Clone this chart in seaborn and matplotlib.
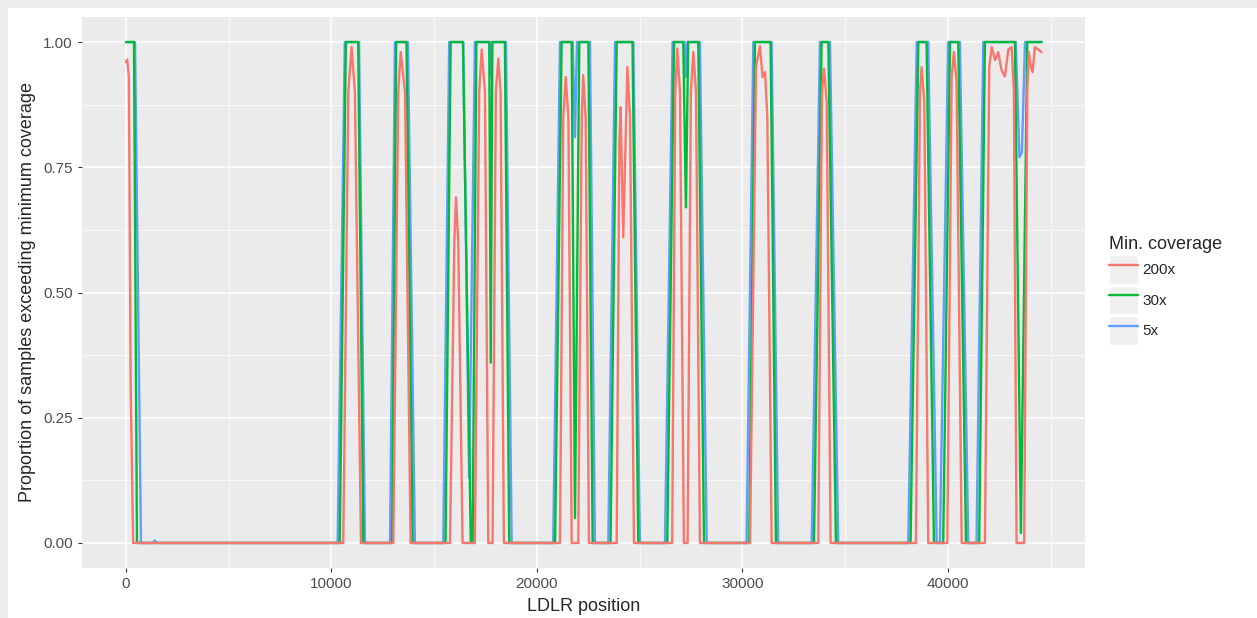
import pandas as pd
import matplotlib
matplotlib.use("Agg")
import matplotlib.pyplot as plt
import seaborn as sns
from matplotlib.ticker import MultipleLocator
from matplotlib.patches import Rectangle
from matplotlib.lines import Line2D
from matplotlib.legend_handler import HandlerTuple

# coverage proportion along LDLR
pos_5x = [0, 440, 730, 1300, 1400, 1500,
          10300, 10650, 11340, 11630,
          12850, 13090, 13720, 14060,
          15440, 15730, 16410, 16700, 16980, 17700, 17760, 17820, 18490, 18770,
          20790, 21120, 21740, 21850, 21950, 22580, 22820,
          23470, 23800, 24690, 25010,
          26230, 26600, 27180, 27250, 27320, 27930, 28260,
          30200, 30530, 31420, 31740,
          33370, 33770, 34260, 34660,
          38070, 38480, 39040, 39450,
          39610, 40010, 40580, 40990,
          41390, 41720, 43300, 43480, 43600, 43750, 44560]
val_5x = [1, 1, 0, 0, 0.005, 0,
          0, 1, 1, 0,
          0, 1, 1, 0,
          0, 1, 1, 0.13, 1, 1, 0.93, 1, 1, 0,
          0, 1, 1, 0.81, 1, 1, 0,
          0, 1, 1, 0,
          0, 1, 1, 0.93, 1, 1, 0,
          0, 1, 1, 0,
          0, 1, 1, 0,
          0, 1, 1, 0,
          0, 1, 1, 0,
          0, 1, 1, 0.77, 0.78, 1, 1]

pos_30x = [0, 390, 535,
           10400, 10700, 11300, 11550,
           12950, 13150, 13650, 13950,
           15550, 15800, 16400, 16780, 16870, 17050, 17680, 17750, 17830, 18440, 18650,
           20880, 21200, 21690, 21850, 22060, 22500, 22710,
           23580, 23880, 24650, 24930,
           26340, 26670, 27120, 27250, 27360, 27850, 28130,
           30330, 30610, 31370, 31630,
           33480, 33850, 34180, 34550,
           38180, 38560, 38960, 39320,
           39770, 40100, 40500, 40880,
           41520, 41800, 43260, 43550, 43860, 44560]
val_30x = [1, 1, 0,
           0, 1, 1, 0,
           0, 1, 1, 0,
           0, 1, 1, 0, 0, 1, 1, 0.36, 1, 1, 0,
           0, 1, 1, 0.05, 1, 1, 0,
           0, 1, 1, 0,
           0, 1, 1, 0.67, 1, 1, 0,
           0, 1, 1, 0,
           0, 1, 1, 0,
           0, 1, 1, 0,
           0, 1, 1, 0,
           0, 1, 1, 0.02, 1, 1]

pos_200x = [0, 60, 140, 230, 350,
            10575, 10820, 10980, 11140, 11435,
            13010, 13250, 13370, 13580, 13850,
            15770, 15980, 16060, 16170, 16380,
            16980, 17190, 17310, 17470, 17630,
            17840, 18000, 18120, 18230, 18390,
            21120, 21280, 21400, 21530, 21690,
            22010, 22180, 22250, 22370, 22530,
            23880, 24010, 24070, 24200, 24400, 24530, 24720,
            26580, 26730, 26830, 26960, 27150,
            27330, 27490, 27610, 27740, 27930,
            30370, 30660, 30850, 30980, 31100, 31210, 31420,
            33690, 33870, 33970, 34100, 34290,
            38440, 38640, 38720, 38850, 39040,
            39970, 40180, 40290, 40420, 40670,
            41800, 42010, 42130, 42290, 42450, 42610, 42770, 42940, 43100,
            43210, 43340, 43710, 43860, 43930, 44040, 44120, 44230, 44390, 44560]
val_200x = [0.96, 0.965, 0.93, 0.31, 0,
            0, 0.9, 0.99, 0.9, 0,
            0, 0.9, 0.98, 0.9, 0,
            0, 0.6, 0.69, 0.6, 0,
            0, 0.9, 0.985, 0.9, 0,
            0, 0.9, 0.967, 0.9, 0,
            0, 0.85, 0.93, 0.85, 0,
            0, 0.85, 0.934, 0.85, 0,
            0, 0.8, 0.87, 0.61, 0.95, 0.85, 0,
            0, 0.9, 0.987, 0.9, 0,
            0, 0.9, 0.98, 0.9, 0,
            0, 0.95, 0.992, 0.93, 0.94, 0.85, 0,
            0, 0.9, 0.947, 0.88, 0,
            0, 0.9, 0.95, 0.88, 0,
            0, 0.93, 0.98, 0.92, 0,
            0, 0.95, 0.99, 0.964, 0.98, 0.944, 0.931, 0.985, 0.99,
            0.9, 0, 0, 0.9, 0.98, 0.95, 0.94, 0.99, 0.985, 0.98]

levels = ['200x', '30x', '5x']
colors = {'200x': '#F8766D', '30x': '#00BA38', '5x': '#619CFF'}

cov = pd.concat([
    pd.DataFrame({'position': pos_5x, 'prop': val_5x, 'coverage': '5x'}),
    pd.DataFrame({'position': pos_30x, 'prop': val_30x, 'coverage': '30x'}),
    pd.DataFrame({'position': pos_200x, 'prop': val_200x, 'coverage': '200x'}),
])

sns.set_theme(style='darkgrid', rc={'axes.facecolor': '#EBEBEB',
                                    'grid.color': 'white'})
plt.rcParams['font.family'] = ['Liberation Sans', 'DejaVu Sans']

fig = plt.figure(figsize=(12.57, 6.18), dpi=100, facecolor='#EDEDED')
# screenshot frame: thin grey strip on top and left
fig.patches.append(Rectangle((8 / 1257, 0), 1, 1 - 8 / 618, transform=fig.transFigure,
                             facecolor='white', edgecolor='none', zorder=-10))
ax = fig.add_axes([82 / 1257, 1 - 568 / 618, 1003 / 1257, 551 / 618])

# draw 5x first so the red line ends up on top, like the original
sns.lineplot(data=cov, x='position', y='prop', hue='coverage',
             hue_order=['5x', '30x', '200x'], palette=colors,
             estimator=None, linewidth=1.7, legend=False, ax=ax)

ax.set_xlim(-2140, 46670)
ax.set_ylim(-0.05, 1.05)
ax.set_xticks([0, 10000, 20000, 30000, 40000])
ax.set_yticks([0, 0.25, 0.5, 0.75, 1.0])
ax.set_yticklabels(['0.00', '0.25', '0.50', '0.75', '1.00'])
ax.xaxis.set_minor_locator(MultipleLocator(5000))
ax.yaxis.set_minor_locator(MultipleLocator(0.125))
ax.grid(which='major', color='white', linewidth=1.1)
ax.grid(which='minor', color='white', linewidth=0.5)
for s in ax.spines.values():
    s.set_visible(False)
ax.tick_params(which='major', length=3, width=0.8, color='#333333',
               labelsize=11, labelcolor='#4D4D4D', pad=3.5,
               bottom=True, left=True)
ax.tick_params(which='minor', length=0)

ax.set_xlabel('LDLR position', fontsize=13, labelpad=5)
ax.set_ylabel('Proportion of samples exceeding minimum coverage',
              fontsize=13, labelpad=5)

handles = [(Rectangle((0, 0), 1, 1, facecolor='#EFEFEF', edgecolor='white'),
            Line2D([], [], color=colors[k], linewidth=1.7)) for k in levels]
fig.legend(handles, levels, handler_map={tuple: HandlerTuple(ndivide=1, pad=0)},
           loc='upper left', bbox_to_anchor=(1109 / 1257, 1 - 236 / 618),
           frameon=False, title='Min. coverage', alignment='left',
           fontsize=11, title_fontsize=13, handlelength=1.9, handleheight=2.45,
           labelspacing=0.16, handletextpad=0.3, borderpad=0, borderaxespad=0)

fig.savefig('out.png', dpi=100, facecolor=fig.get_facecolor())
